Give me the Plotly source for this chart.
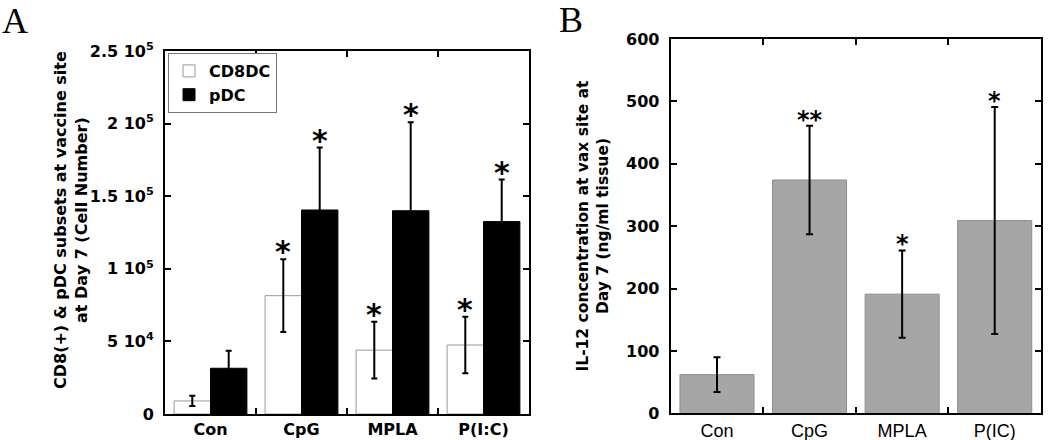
import plotly.graph_objects as go

# ---------------- Panel A data ----------------
groups_a = ["Con", "CpG", "MPLA", "P(I:C)"]
cd8dc = [9000, 81500, 44000, 47500]
cd8dc_err = [3500, 25000, 19500, 19500]
pdc = [31500, 140500, 140000, 132500]
pdc_err = [12000, 43000, 61000, 29000]
sig_cd8dc = ["", "*", "*", "*"]
sig_pdc = ["", "*", "*", "*"]
ytick_vals_a = [0, 50000, 100000, 150000, 200000, 250000]
ytick_text_a = ["0", "5 10<sup>4</sup>", "1 10<sup>5</sup>", "1.5 10<sup>5</sup>",
                "2 10<sup>5</sup>", "2.5 10<sup>5</sup>"]

# ---------------- Panel B data ----------------
groups_b = ["Con", "CpG", "MPLA", "P(IC)"]
il12 = [62, 374, 191, 309]
il12_err = [28, 87, 70, 182]
sig_il12 = ["", "**", "*", "*"]
ytick_vals_b = [0, 100, 200, 300, 400, 500, 600]

W, H = 1050, 440


def fx(p):
    return p / W


def fy(p):
    return 1 - p / H


BOLD = dict(family="DejaVu Sans", color="black", weight="bold")

fig = go.Figure()
fig.add_trace(go.Bar(
    x=groups_a, y=cd8dc, name="CD8DC", xaxis="x", yaxis="y",
    marker=dict(color="white", line=dict(color="#9a9a9a", width=1)),
    error_y=dict(type="data", array=cd8dc_err, color="black", thickness=2, width=3),
))
fig.add_trace(go.Bar(
    x=groups_a, y=pdc, name="pDC", xaxis="x", yaxis="y",
    marker=dict(color="black", line=dict(color="black", width=1)),
    error_y=dict(type="data", array=pdc_err, color="black", thickness=2, width=3),
))
fig.add_trace(go.Bar(
    x=groups_b, y=il12, name="IL-12", xaxis="x2", yaxis="y2", showlegend=False,
    marker=dict(color="#a6a6a6", line=dict(color="#8e8e8e", width=1)),
    error_y=dict(type="data", array=il12_err, color="black", thickness=2, width=3.5),
))

annotations = []
# significance stars panel A
for i in range(len(groups_a)):
    if sig_cd8dc[i]:
        annotations.append(dict(x=i - 0.2, y=cd8dc[i] + cd8dc_err[i], xref="x", yref="y",
                                text=sig_cd8dc[i], showarrow=False, yanchor="bottom",
                                yshift=-12, font=dict(size=30, **BOLD)))
    if sig_pdc[i]:
        annotations.append(dict(x=i + 0.2, y=pdc[i] + pdc_err[i], xref="x", yref="y",
                                text=sig_pdc[i], showarrow=False, yanchor="bottom",
                                yshift=-12, font=dict(size=30, **BOLD)))
# significance stars panel B
for i in range(len(groups_b)):
    if sig_il12[i]:
        annotations.append(dict(x=i, y=il12[i] + il12_err[i], xref="x2", yref="y2",
                                text=sig_il12[i], showarrow=False, yanchor="bottom",
                                yshift=-10, font=dict(size=24, **BOLD)))

# axis titles
annotations.append(dict(x=fx(71), y=fy(220), xref="paper", yref="paper",
                        text="CD8(+) & pDC subsets at vaccine site<br>at Day 7 (Cell Number)",
                        textangle=-90, showarrow=False, xanchor="center", yanchor="middle",
                        font=dict(size=16, **BOLD)))
annotations.append(dict(x=fx(592.5), y=fy(226), xref="paper", yref="paper",
                        text="IL-12 concentration at vax site at<br>Day 7 (ng/ml tissue)",
                        textangle=-90, showarrow=False, xanchor="center", yanchor="middle",
                        font=dict(size=15.5, **BOLD)))
# panel letters
annotations.append(dict(x=fx(15), y=fy(21), xref="paper", yref="paper", text="A",
                        showarrow=False, xanchor="center", yanchor="middle",
                        font=dict(family="Liberation Serif", size=36, color="black")))
annotations.append(dict(x=fx(571), y=fy(20), xref="paper", yref="paper", text="B",
                        showarrow=False, xanchor="center", yanchor="middle",
                        font=dict(family="Liberation Serif", size=36, color="black")))

common_x = dict(type="category", tickson="boundaries", ticks="inside", ticklen=6,
                tickwidth=2, tickcolor="black", showline=True, linecolor="black",
                linewidth=2, mirror="ticks", showgrid=False, zeroline=False,
                automargin=False)
common_y = dict(ticks="inside", ticklen=6, tickwidth=2, tickcolor="black",
                showline=True, linecolor="black", linewidth=2, mirror="ticks",
                showgrid=False, zeroline=False, ticklabelstandoff=6, automargin=False,
                tickfont=dict(size=16, **BOLD))

fig.update_layout(
    width=W, height=H, margin=dict(l=0, r=0, t=0, b=0, autoexpand=False),
    paper_bgcolor="white", plot_bgcolor="white",
    barmode="group", bargap=0.2, bargroupgap=0,
    xaxis=dict(domain=[fx(165), fx(529)], anchor="y",
               tickfont=dict(size=16, **BOLD), **common_x),
    yaxis=dict(domain=[fy(414), fy(51)], anchor="x", range=[0, 250000],
               tickvals=ytick_vals_a, ticktext=ytick_text_a, **common_y),
    xaxis2=dict(domain=[fx(670.7), fx(1041)], anchor="y2",
                tickfont=dict(size=18, family="Liberation Sans", color="black"), **common_x),
    yaxis2=dict(domain=[fy(413.3), fy(39)], anchor="x2", range=[0, 600],
                tickvals=ytick_vals_b, **common_y),
    legend=dict(x=fx(168), y=fy(53), xanchor="left", yanchor="top",
                bgcolor="white", bordercolor="#777777", borderwidth=1,
                font=dict(size=16, **BOLD), traceorder="normal", tracegroupgap=0),
    annotations=annotations,
    showlegend=True,
)

# remove the browser's default 8px body margin so the 1050x440 figure fills the window
fig.write_html("out.html",
               config={"displayModeBar": False},
               post_script="document.body.style.margin='0px';"
                           "document.body.style.overflow='hidden';")
